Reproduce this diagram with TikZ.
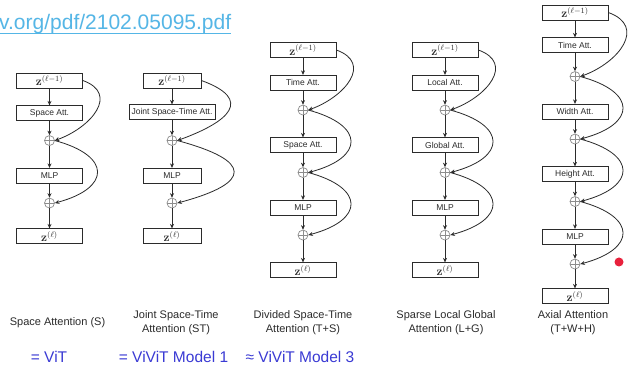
\documentclass[tikz,border=0pt]{standalone}
\usepackage[no-math]{fontspec}
\setmainfont{Liberation Sans}
\usepackage{tikz}
\usetikzlibrary{arrows.meta,positioning}
\definecolor{ink}{HTML}{2B2B2B}
\definecolor{muted}{HTML}{8C8C8C}
\definecolor{link}{HTML}{55B6E6}
\definecolor{vblue}{HTML}{3A3AD4}
\definecolor{laser}{HTML}{E8213C}
\tikzset{
  block/.style={draw=ink,fill=white,line width=0.8pt,minimum width=66pt,minimum height=15pt,inner sep=0.5pt,font=\fontsize{8.5}{9}\selectfont,text=ink},
  zbox/.style={block,font=\fontsize{11.5}{12}\selectfont},
  adder/.style={circle,draw=muted,fill=white,line width=0.7pt,minimum size=10pt,inner sep=0pt,
    path picture={\draw[muted,line width=0.7pt] (path picture bounding box.north) -- (path picture bounding box.south)
      (path picture bounding box.west) -- (path picture bounding box.east);}},
  flow/.style={-{Stealth[length=4.5pt,width=4pt]},line width=0.8pt,draw=ink},
  skip/.style={flow,out=-20,in=20,looseness=#1},
  bypass/.style={flow,out=-15,in=15,looseness=#1},
  caption/.style={align=center,font=\fontsize{11}{14}\selectfont,text=ink},
  tag/.style={font=\fontsize{15.5}{18}\selectfont,text=vblue}
}

\begin{document}
\begin{tikzpicture}[x=1pt,y=1pt]
  \path[use as bounding box,fill=white] (0,0) rectangle (641,-374);

  % paper link
  \node[anchor=base west,inner sep=0pt,font=\fontsize{21}{24}\selectfont,text=link] (url) at (-1,-30) {v.org/pdf/2102.05095.pdf};
  \draw[link,line width=0.9pt] ([yshift=1pt]url.south west) -- ([yshift=1pt]url.south east);

  % space attention
  \node[zbox] (sin) at (49.5,-80.5) {$\mathbf{z}^{(\ell-1)}$};
  \node[block,below=17pt of sin] (satt) {Space Att.};
  \node[adder,below=14pt of satt] (sadd1) {};
  \node[block,below=22pt of sadd1] (smlp) {MLP};
  \node[adder,below=14pt of smlp] (sadd2) {};
  \node[zbox,below=20pt of sadd2] (sout) {$\mathbf{z}^{(\ell)}$};
  \draw[flow] (sin) -- (satt);
  \draw[flow] (satt) -- (sadd1);
  \draw[flow] (sadd1) -- (smlp);
  \draw[flow] (smlp) -- (sadd2);
  \draw[flow] (sadd2) -- (sout);
  \draw[skip=1.5] (sin.east) to (sadd1.east);
  \draw[bypass=2.4] (sadd1.east) to (sadd2.east);

  % joint space-time
  \node[zbox,minimum width=58pt] (jin) at (172,-80.5) {$\mathbf{z}^{(\ell-1)}$};
  \node[block,minimum width=86pt,below=16pt of jin] (jatt) {Joint Space-Time Att.};
  \node[adder,below=15pt of jatt] (jadd1) {};
  \node[block,minimum width=58pt,below=22pt of jadd1] (jmlp) {MLP};
  \node[adder,below=14pt of jmlp] (jadd2) {};
  \node[zbox,minimum width=58pt,below=20pt of jadd2] (jout) {$\mathbf{z}^{(\ell)}$};
  \draw[flow] (jin) -- (jatt);
  \draw[flow] (jatt) -- (jadd1);
  \draw[flow] (jadd1) -- (jmlp);
  \draw[flow] (jmlp) -- (jadd2);
  \draw[flow] (jadd2) -- (jout);
  \draw[skip=2.2] (jin.east) to (jadd1.east);
  \draw[bypass=3.2] (jadd1.east) to (jadd2.east);

  % divided space-time
  \node[zbox] (din) at (303,-50) {$\mathbf{z}^{(\ell-1)}$};
  \node[block,below=17pt of din] (dtime) {Time Att.};
  \node[adder,below=14pt of dtime] (dadd1) {};
  \node[block,below=22pt of dadd1] (dspace) {Space Att.};
  \node[adder,below=14pt of dspace] (dadd2) {};
  \node[block,below=22pt of dadd2] (dmlp) {MLP};
  \node[adder,below=14pt of dmlp] (dadd3) {};
  \node[zbox,below=22pt of dadd3] (dout) {$\mathbf{z}^{(\ell)}$};
  \draw[flow] (din) -- (dtime);
  \draw[flow] (dtime) -- (dadd1);
  \draw[flow] (dadd1) -- (dspace);
  \draw[flow] (dspace) -- (dadd2);
  \draw[flow] (dadd2) -- (dmlp);
  \draw[flow] (dmlp) -- (dadd3);
  \draw[flow] (dadd3) -- (dout);
  \draw[skip=1.5] (din.east) to (dadd1.east);
  \draw[bypass=2.4] (dadd1.east) to (dadd2.east);
  \draw[bypass=2.4] (dadd2.east) to (dadd3.east);

  % sparse local global
  \node[zbox] (lin) at (445,-50) {$\mathbf{z}^{(\ell-1)}$};
  \node[block,below=17pt of lin] (llocal) {Local Att.};
  \node[adder,below=14pt of llocal] (ladd1) {};
  \node[block,below=22pt of ladd1] (lglobal) {Global Att.};
  \node[adder,below=14pt of lglobal] (ladd2) {};
  \node[block,below=22pt of ladd2] (lmlp) {MLP};
  \node[adder,below=14pt of lmlp] (ladd3) {};
  \node[zbox,below=22pt of ladd3] (lout) {$\mathbf{z}^{(\ell)}$};
  \draw[flow] (lin) -- (llocal);
  \draw[flow] (llocal) -- (ladd1);
  \draw[flow] (ladd1) -- (lglobal);
  \draw[flow] (lglobal) -- (ladd2);
  \draw[flow] (ladd2) -- (lmlp);
  \draw[flow] (lmlp) -- (ladd3);
  \draw[flow] (ladd3) -- (lout);
  \draw[skip=1.5] (lin.east) to (ladd1.east);
  \draw[bypass=2.4] (ladd1.east) to (ladd2.east);
  \draw[bypass=2.4] (ladd2.east) to (ladd3.east);

  % axial attention
  \node[zbox] (ain) at (575,-12.5) {$\mathbf{z}^{(\ell-1)}$};
  \node[block,below=17pt of ain] (atime) {Time Att.};
  \node[adder,below=18pt of atime] (aadd1) {};
  \node[block,below=22pt of aadd1] (awidth) {Width Att.};
  \node[adder,below=14pt of awidth] (aadd2) {};
  \node[block,below=22pt of aadd2] (aheight) {Height Att.};
  \node[adder,below=14pt of aheight] (aadd3) {};
  \node[block,below=22pt of aadd3] (amlp) {MLP};
  \node[adder,below=14pt of amlp] (aadd4) {};
  \node[zbox,below=19pt of aadd4] (aout) {$\mathbf{z}^{(\ell)}$};
  \draw[flow] (ain) -- (atime);
  \draw[flow] (atime) -- (aadd1);
  \draw[flow] (aadd1) -- (awidth);
  \draw[flow] (awidth) -- (aadd2);
  \draw[flow] (aadd2) -- (aheight);
  \draw[flow] (aheight) -- (aadd3);
  \draw[flow] (aadd3) -- (amlp);
  \draw[flow] (amlp) -- (aadd4);
  \draw[flow] (aadd4) -- (aout);
  \draw[skip=1.5] (ain.east) to (aadd1.east);
  \draw[bypass=2.4] (aadd1.east) to (aadd2.east);
  \draw[bypass=2.4] (aadd2.east) to (aadd3.east);
  \draw[bypass=2.4] (aadd3.east) to (aadd4.east);

  \node[circle,fill=laser,minimum size=9pt,inner sep=0pt] (pointer) at (619,-262) {};

  % captions
  \node[caption] (scap) at (57.5,-323) {Space Attention (S)};
  \node[caption] (jcap) at (176,-323) {Joint Space-Time\\Attention (ST)};
  \node[caption] (dcap) at (303,-323) {Divided Space-Time\\Attention (T+S)};
  \node[caption] (lcap) at (446,-323) {Sparse Local Global\\Attention (L+G)};
  \node[caption] (acap) at (573,-323) {Axial Attention\\(T+W+H)};

  \node[tag] (stag) at (49,-357) {= ViT};
  \node[tag] (jtag) at (173.5,-357) {= ViViT Model 1};
  \node[tag] (dtag) at (300,-357) {≈ ViViT Model 3};
\end{tikzpicture}
\end{document}
